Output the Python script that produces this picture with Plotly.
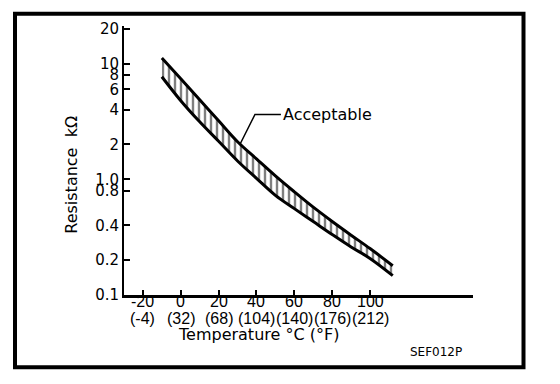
import plotly.graph_objects as go
import math

# ---- data ----
temp_c = [-10, 0, 10, 20, 30, 40, 50, 60, 70, 80, 90, 100, 112]
upper_kohm = [11.2, 7.4, 4.87, 3.2, 2.11, 1.50, 1.07, 0.78, 0.574, 0.432, 0.329, 0.252, 0.179]
lower_kohm = [7.7, 4.78, 3.14, 2.13, 1.44, 1.02, 0.727, 0.558, 0.431, 0.333, 0.26, 0.207, 0.147]

x_tickvals = [-20, 0, 20, 40, 60, 80, 100]
x_ticktext_c = ["-20", "0", "20", "40", "60", "80", "100"]
x_ticktext_f = ["(-4)", "(32)", "(68)", "(104)", "(140)", "(176)", "(212)"]
y_tickvals = [0.1, 0.2, 0.4, 0.8, 1.0, 2, 4, 6, 8, 10, 20]
y_ticktext = ["0.1", "0.2", "0.4", "0.8", "1.0", "2", "4", "6", "8", "10", "20"]

# leader line for the "Acceptable" label: band point -> elbow -> label
leader_temp = [31.3, 39.2, 52.9]
leader_kohm = [2.01, 3.63, 3.63]
label_text = "Acceptable"

WIDE = "DejaVu Sans, Verdana, sans-serif"
NARROW = "Liberation Sans Narrow, Arial Narrow, Liberation Sans, Arial, sans-serif"

fig = go.Figure()
fig.add_trace(go.Scatter(
    x=temp_c, y=upper_kohm, mode="lines",
    line=dict(color="black", width=3, shape="spline"),
    showlegend=False, hoverinfo="skip"))
fig.add_trace(go.Scatter(
    x=temp_c, y=lower_kohm, mode="lines",
    line=dict(color="black", width=3, shape="spline"),
    fill="tonexty", fillcolor="rgba(255,255,255,0)",
    fillpattern=dict(shape="|", size=6, solidity=0.4, fgcolor="black", bgcolor="white"),
    showlegend=False, hoverinfo="skip"))
fig.add_trace(go.Scatter(
    x=leader_temp, y=leader_kohm, mode="lines",
    line=dict(color="black", width=1.5),
    showlegend=False, hoverinfo="skip"))

fig.add_annotation(x=leader_temp[-1], y=math.log10(leader_kohm[-1]), xref="x", yref="y",
                   text=label_text, showarrow=False, xanchor="left", yanchor="middle",
                   xshift=0, font=dict(family=WIDE, size=16, color="black"))

# Celsius and Fahrenheit labels under the ticks
for xv, ct, ft in zip(x_tickvals, x_ticktext_c, x_ticktext_f):
    fig.add_annotation(x=xv, y=-0.0256, xref="x", yref="paper", text=ct,
                       showarrow=False, xanchor="center", yanchor="middle",
                       font=dict(family=NARROW, size=16, color="black"))
    fig.add_annotation(x=xv, y=-0.0879, xref="x", yref="paper", text=ft,
                       showarrow=False, xanchor="center", yanchor="middle",
                       font=dict(family=NARROW, size=16, color="black"))

fig.add_annotation(x=0.384, y=-0.1465, xref="paper", yref="paper",
                   text="Temperature °C (°F)", showarrow=False,
                   xanchor="center", yanchor="middle",
                   font=dict(family=WIDE, size=16, color="black"))
fig.add_annotation(x=-0.149, y=0.447, xref="paper", yref="paper",
                   text="Resistance  kΩ", showarrow=False, textangle=-90,
                   xanchor="center", yanchor="middle",
                   font=dict(family=WIDE, size=16, color="black"))
fig.add_annotation(x=0.894, y=-0.2125, xref="paper", yref="paper",
                   text="SEF012P", showarrow=False,
                   xanchor="center", yanchor="middle",
                   font=dict(family=WIDE, size=12, color="black"))

# outer frame
fig.add_shape(type="rect", xref="paper", yref="paper",
              x0=-0.3123, x1=1.1447, y0=-0.269, y1=1.0458,
              line=dict(color="black", width=4), fillcolor="rgba(0,0,0,0)")

fig.update_xaxes(range=[-30, 154.4], tickvals=x_tickvals, showticklabels=False,
                 showline=True, linecolor="black", linewidth=3,
                 ticks="inside", ticklen=5, tickwidth=2, tickcolor="black",
                 showgrid=False, zeroline=False)
fig.update_yaxes(type="log", range=[-1, 1.325], tickvals=y_tickvals, ticktext=y_ticktext,
                 showline=True, linecolor="black", linewidth=2,
                 ticks="inside", ticklen=6, tickwidth=2, tickcolor="black",
                 showgrid=False, zeroline=False,
                 tickfont=dict(family=WIDE, size=15, color="black"))

# page body has an 8px margin, so the figure is drawn 8px smaller and shifted
fig.update_layout(width=552, height=376,
                  margin=dict(l=116, r=87, t=15, b=89),
                  paper_bgcolor="white", plot_bgcolor="white",
                  showlegend=False)

fig.write_html("out.html", config={"displayModeBar": False})
